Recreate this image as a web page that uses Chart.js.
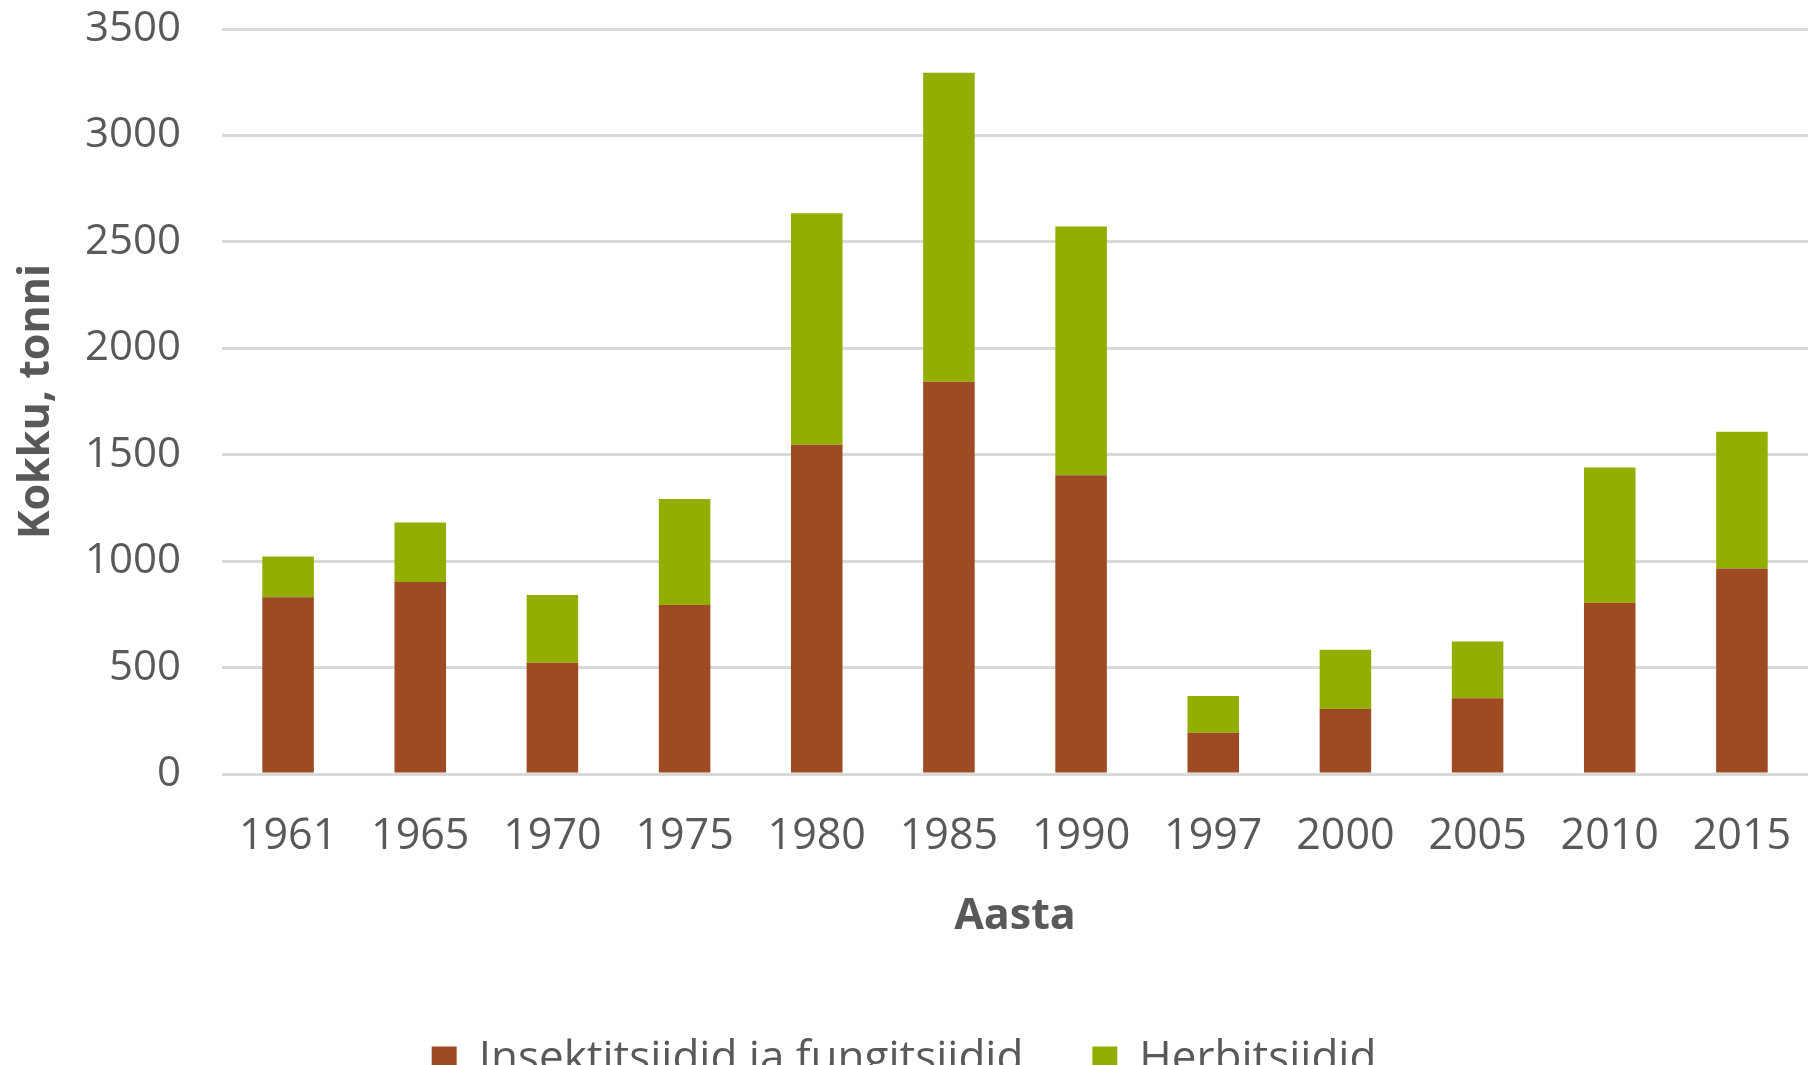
<!DOCTYPE html>
<html>
<head>
<meta charset="utf-8">
<script src="https://cdn.jsdelivr.net/npm/chart.js@4/dist/chart.umd.min.js"></script>
<style>
	html, body { margin: 0; padding: 0; background: #fff; }
	#wrap { width: 1808px; height: 1065px; overflow: hidden; position: relative; }
	#myChart { display: block; }
</style>
</head>
<body>
<div id="wrap">
	<canvas id="myChart" width="1808" height="1091"></canvas>
</div>

<script>
	// aastad (x-telg)
	var years = ['1961', '1965', '1970', '1975', '1980', '1985', '1990', '1997', '2000', '2005', '2010', '2015'];

	// tonni, loetud pildilt
	var insektFung = [830, 902, 523, 794, 1547, 1843, 1403, 194, 305, 356, 805, 966];
	var herbitsiidid = [192, 279, 318, 498, 1087, 1451, 1169, 173, 279, 267, 635, 642];

	var yTicks = [0, 500, 1000, 1500, 2000, 2500, 3000, 3500];

	var textColor = '#595959';
	var fontName = "'Open Sans', 'Noto Sans', sans-serif";

	function initChart() {
		var ctx = document.getElementById('myChart').getContext('2d');
		var chartData = {
			type: 'bar',
			data: {
				labels: years,
				datasets: [{
					label: 'Insektitsiidid ja fungitsiidid',
					data: insektFung,
					backgroundColor: '#9E4A22',
					barPercentage: 0.39,
					categoryPercentage: 1
				}, {
					label: 'Herbitsiidid',
					data: herbitsiidid,
					backgroundColor: '#93AE00',
					barPercentage: 0.39,
					categoryPercentage: 1
				}]
			},
			options: {
				responsive: false,
				animation: false,
				layout: { padding: { top: 29, left: 0, right: 0, bottom: 0 } },
				plugins: {
					tooltip: { enabled: false },
					legend: {
						position: 'bottom',
						labels: {
							color: textColor,
							font: { family: fontName, size: 44 },
							boxWidth: 25,
							boxHeight: 25,
							padding: 69
						}
					}
				},
				scales: {
					x: {
						stacked: true,
						// tick marks kept invisible, their length only moves labels down
						grid: { color: 'transparent', tickColor: 'transparent', drawOnChartArea: false, drawTicks: true, tickLength: 37 },
						border: { display: false },
						ticks: {
							color: textColor,
							font: { family: fontName, size: 43 },
							padding: 0,
							maxRotation: 0,
							autoSkip: false
						},
						title: {
							display: true,
							text: 'Aasta',
							color: textColor,
							font: { family: fontName, size: 43, weight: 'bold' },
							padding: { top: 0, bottom: 25 }
						},
						afterFit: function(axis) { axis.height = 194; }
					},
					y: {
						stacked: true,
						min: 0,
						max: 3500,
						afterBuildTicks: function(axis) {
							axis.ticks = yTicks.map(function(v) { return { value: v }; });
						},
						grid: { color: '#D9D9D9', lineWidth: 3, drawTicks: true, tickLength: 41, tickColor: 'transparent' },
						border: { display: false },
						ticks: {
							color: textColor,
							font: { family: fontName, size: 42 },
							padding: 0,
							callback: function(v) { return String(v); }
						},
						title: {
							display: true,
							text: 'Kokku, tonni',
							color: textColor,
							font: { family: fontName, size: 43, weight: 'bold' },
							padding: { top: 11, bottom: 0 }
						},
						afterFit: function(axis) { axis.width = 222; }
					}
				}
			}
		};

		var myChart = new Chart(ctx, chartData);
	}

	initChart();
</script>
</body>
</html>
